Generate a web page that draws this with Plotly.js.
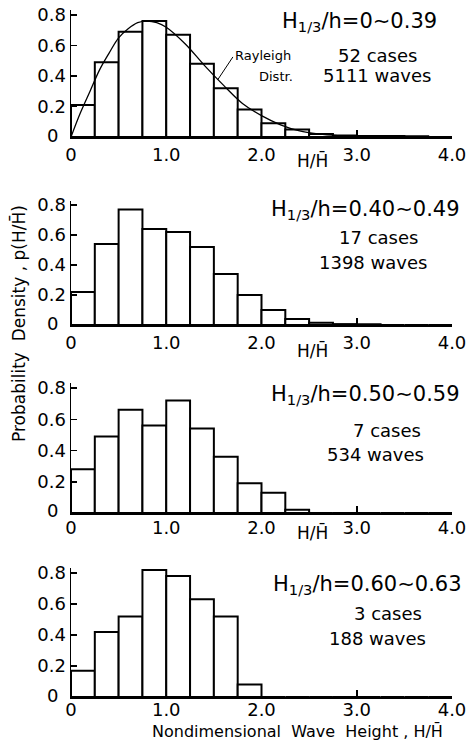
<!DOCTYPE html>
<html>
<head>
<meta charset="utf-8">
<script src="https://cdn.plot.ly/plotly-3.0.1.min.js"></script>
<style>html,body{margin:0;padding:0;background:#fff;}#chart{width:470px;height:742px;}</style>
</head>
<body>
<div id="chart"></div>
<script>
// ---- data ----
const binCenters = [0.125,0.375,0.625,0.875,1.125,1.375,1.625,1.875,2.125,2.375,2.625,2.875,3.125,3.375,3.625,3.875];
const binWidth = 0.25;
const p1 = [0.21,0.49,0.69,0.76,0.67,0.48,0.32,0.18,0.09,0.05,0.02,0.01,0.007,0.006,0.005,0];
const p2 = [0.22,0.54,0.77,0.64,0.62,0.52,0.34,0.20,0.10,0.04,0.015,0.006,0.005,0,0,0];
const p3 = [0.28,0.49,0.66,0.56,0.72,0.54,0.36,0.19,0.13,0.02,0,0,0,0,0,0];
const p4 = [0.17,0.42,0.52,0.82,0.78,0.63,0.52,0.08,0,0,0,0,0,0,0,0];
// Rayleigh distribution curve (panel 1)
const rayX = [0,0.1,0.2,0.3,0.4,0.5,0.6,0.7,0.8,0.9,1.0,1.2,1.4,1.6,1.8,2.0,2.2,2.4,2.6,2.8,3.0,3.4,3.8];
const rayY = [0,0.16,0.30,0.44,0.55,0.65,0.71,0.75,0.76,0.75,0.72,0.61,0.47,0.34,0.22,0.14,0.08,0.04,0.02,0.009,0.004,0.001,0];
const rangeLabels = ["H<sub>1/3</sub>/h=0∼0.39","H<sub>1/3</sub>/h=0.40∼0.49","H<sub>1/3</sub>/h=0.50∼0.59","H<sub>1/3</sub>/h=0.60∼0.63"];
const caseLabels = ["52 cases","17 cases","7 cases","3 cases"];
const waveLabels = ["5111 waves","1398 waves","534 waves","188 waves"];
const xTickVals = [0,1,2,3,4];
const xTickText = ["0","1.0","2.0","3.0","4.0"];
const yTickVals = [0.2,0.4,0.6,0.8];
const yTickText = ["0.2","0.4","0.6","0.8"];

// ---- layout geometry (pixels) ----
const W = 470, H = 742;
const FONT = "DejaVu Sans, sans-serif";
const xLeft = 71, xRight = 452;
const yMax = 0.83;
const panels = [
  {base:137, top:15, standoff:0},
  {base:325, top:205, standoff:0},
  {base:513, top:388, standoff:-3},
  {base:697, top:573, standoff:-5}
];
const px = v => v / W;
const py = v => 1 - v / H;

const series = [p1,p2,p3,p4];
const traces = [];
series.forEach((vals,i) => {
  const s = i === 0 ? "" : String(i+1);
  traces.push({
    type:"bar", x:binCenters, y:vals, width:binWidth,
    xaxis:"x"+s, yaxis:"y"+s,
    marker:{color:"#ffffff", line:{color:"#000000", width:2}},
    showlegend:false, hoverinfo:"skip"
  });
});
traces.push({
  type:"scatter", mode:"lines", x:rayX, y:rayY, xaxis:"x", yaxis:"y",
  line:{color:"#000000", width:1.3, shape:"spline"}, showlegend:false, hoverinfo:"skip"
});

const layout = {
  width:W, height:H,
  margin:{l:0,r:0,t:0,b:0},
  paper_bgcolor:"#ffffff", plot_bgcolor:"rgba(0,0,0,0)",
  bargap:0, showlegend:false,
  font:{family:FONT, color:"#000000", size:18},
  annotations:[], shapes:[]
};

panels.forEach((p,i) => {
  const s = i === 0 ? "" : String(i+1);
  const topPx = p.base - (p.base - p.top) * yMax / 0.8;
  layout["xaxis"+s] = {
    domain:[px(xLeft), px(xRight)], range:[0,4], anchor:"y"+s,
    showline:true, linewidth:2, linecolor:"#000",
    ticks:"inside", ticklen:7, tickwidth:1.5, tickcolor:"#000",
    tickvals:xTickVals, ticktext:xTickText, ticklabelstandoff:p.standoff,
    tickfont:{family:FONT, size:18, color:"#000"},
    showgrid:false, zeroline:false, fixedrange:true
  };
  layout["yaxis"+s] = {
    domain:[py(p.base), py(topPx)], range:[0,yMax], anchor:"x"+s,
    showline:true, linewidth:1.5, linecolor:"#000",
    ticks:"inside", ticklen:6, tickwidth:1.5, tickcolor:"#000",
    tickvals:yTickVals, ticktext:yTickText,
    tickfont:{family:FONT, size:18, color:"#000"},
    showgrid:false, zeroline:false, fixedrange:true
  };
  // "0" label of y axis
  layout.annotations.push({xref:"paper", yref:"paper", x:px(52), y:py(p.base-2), text:"0",
    showarrow:false, font:{size:18}, xanchor:"center", yanchor:"middle"});
});

const textPos = [
  {t:[359,22], c:[377,55], w:[377,75]},
  {t:[365,210], c:[378,238], w:[373,262]},
  {t:[365,395], c:[387,430], w:[375,454]},
  {t:[367,585], c:[388,613], w:[377,638]}
];
textPos.forEach((tp,i) => {
  layout.annotations.push({xref:"paper", yref:"paper", x:px(tp.t[0]), y:py(tp.t[1]), text:rangeLabels[i],
    showarrow:false, font:{size:21}, xanchor:"center", yanchor:"middle"});
  layout.annotations.push({xref:"paper", yref:"paper", x:px(tp.c[0]), y:py(tp.c[1]), text:caseLabels[i],
    showarrow:false, font:{size:18}, xanchor:"center", yanchor:"middle"});
  layout.annotations.push({xref:"paper", yref:"paper", x:px(tp.w[0]), y:py(tp.w[1]), text:waveLabels[i],
    showarrow:false, font:{size:18}, xanchor:"center", yanchor:"middle"});
});

// H/H-bar labels under panels 1-3
[160,350,532].forEach(yy => {
  layout.annotations.push({xref:"paper", yref:"paper", x:px(312), y:py(yy), text:"H/H\u0304",
    showarrow:false, font:{size:17}, xanchor:"center", yanchor:"middle"});
});
// bottom axis title
layout.annotations.push({xref:"paper", yref:"paper", x:px(297), y:py(731),
  text:"Nondimensional  Wave  Height , H/H\u0304", showarrow:false, font:{size:16},
  xanchor:"center", yanchor:"middle"});
// shared y title
layout.annotations.push({xref:"paper", yref:"paper", x:px(18), y:py(324),
  text:"Probability  Density , p(H/H\u0304)", showarrow:false, textangle:-90, font:{size:17},
  xanchor:"center", yanchor:"middle"});
// Rayleigh label
layout.annotations.push({xref:"paper", yref:"paper", x:px(263), y:py(56), text:"Rayleigh",
  showarrow:false, font:{size:13}, xanchor:"center", yanchor:"middle"});
layout.annotations.push({xref:"paper", yref:"paper", x:px(276), y:py(76), text:"Distr.",
  showarrow:false, font:{size:13}, xanchor:"center", yanchor:"middle"});
// pointer from label to curve
layout.shapes.push({type:"line", xref:"x", yref:"y", x0:1.70, y0:0.525, x1:1.54, y1:0.375,
  line:{color:"#000", width:1}});

Plotly.newPlot("chart", traces, layout, {staticPlot:true, displayModeBar:false});
</script>
</body>
</html>
